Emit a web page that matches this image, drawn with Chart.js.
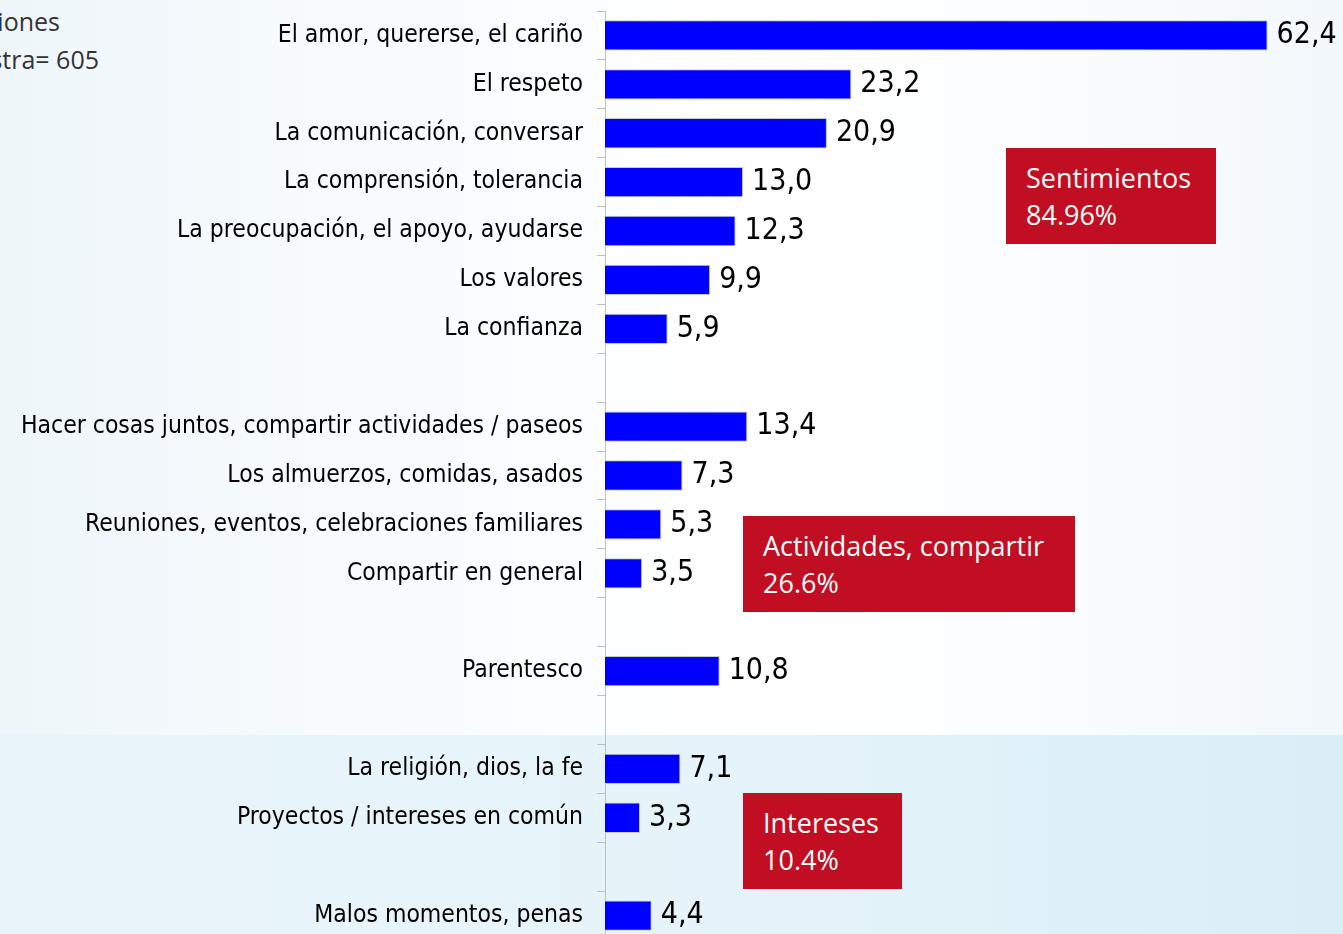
<!DOCTYPE html>
<html>
<head>
<meta charset="utf-8">
<script src="https://cdn.jsdelivr.net/npm/chart.js@4/dist/chart.umd.min.js"></script>
<style>
  html, body { margin: 0; padding: 0; overflow: hidden; width: 1343px; height: 934px; }
  body {
    position: relative;
    background: linear-gradient(to right, #eef6fb 0%, #f7fbfd 25%, #ffffff 55%, #fcfdfe 75%, #f2f8fc 100%);
  }
  #band {
    position: absolute; left: 0; top: 735px; width: 1343px; height: 199px;
    background: linear-gradient(to right, #e9f4fa 0%, #e6f4fa 50%, #dff1f8 80%, #d9eef6 100%);
  }
  #wrap { position: absolute; left: 0; top: 0; width: 1343px; height: 945px; }
  .note { position: absolute; font-family: "Open Sans", "Noto Sans", sans-serif;
          font-size: 25px; color: #333; white-space: nowrap; text-align: right; }
  .box { position: absolute; background: #c20e22; color: #fff; font-family: "Open Sans", "Noto Sans", sans-serif;
         font-size: 27px; line-height: 37px; padding: 11px 0 0 20px; box-sizing: border-box; white-space: nowrap; }
</style>
</head>
<body>
<div id="band"></div>
<div class="note" style="right: 1283px; top: 4px;">Menciones</div>
<div class="note" style="right: 1244px; top: 42px;">Muestra= 605</div>
<div id="wrap"><canvas id="myChart" width="1343" height="945"></canvas></div>
<div class="box" style="left: 1006px; top: 148px; width: 210px; height: 96px;">Sentimientos<br>84.96%</div>
<div class="box" style="left: 743px; top: 516px; width: 332px; height: 96px;">Actividades, compartir<br>26.6%</div>
<div class="box" style="left: 743px; top: 793px; width: 159px; height: 96px;">Intereses<br>10.4%</div>
<script>
var categories = [
    'El amor, quererse, el cariño',
    'El respeto',
    'La comunicación, conversar',
    'La comprensión, tolerancia',
    'La preocupación, el apoyo, ayudarse',
    'Los valores',
    'La confianza',
    '',
    'Hacer cosas juntos, compartir actividades / paseos',
    'Los almuerzos, comidas, asados',
    'Reuniones, eventos, celebraciones familiares',
    'Compartir en general',
    '',
    'Parentesco',
    '',
    'La religión, dios, la fe',
    'Proyectos / intereses en común',
    '',
    'Malos momentos, penas'
];
var values = [62.4, 23.2, 20.9, 13.0, 12.3, 9.9, 5.9, null, 13.4, 7.3, 5.3, 3.5, null, 10.8, null, 7.1, 3.3, null, 4.4];

var labelFont = '"DejaVu Sans Condensed", "DejaVu Sans", sans-serif';

// value labels at the end of each bar, decimal comma
var valueLabels = {
    id: 'valueLabels',
    afterDatasetsDraw: function (chart) {
        var ctx = chart.ctx;
        var meta = chart.getDatasetMeta(0);
        ctx.save();
        ctx.font = '30px ' + labelFont;
        ctx.fillStyle = '#000';
        ctx.textBaseline = 'middle';
        ctx.textAlign = 'left';
        meta.data.forEach(function (bar, i) {
            var v = values[i];
            if (v === null) return;
            ctx.fillText(v.toFixed(1).replace('.', ','), bar.x + 9, bar.y);
        });
        ctx.restore();
    }
};

var ctx = document.getElementById('myChart').getContext('2d');
var myChart = new Chart(ctx, {
    type: 'bar',
    data: {
        labels: categories,
        datasets: [{
            data: values,
            backgroundColor: '#0000ff',
            borderColor: '#c8c8c8',
            borderWidth: 1,
            categoryPercentage: 1,
            barPercentage: 0.62
        }]
    },
    options: {
        indexAxis: 'y',
        responsive: false,
        animation: false,
        layout: { padding: { top: 11, bottom: 5, left: 0, right: 0 } },
        scales: {
            x: {
                display: false,
                min: 0,
                max: 69.5
            },
            y: {
                afterFit: function (scale) {
                    scale.width = 605;
                    scale.paddingTop = 0;
                    scale.paddingBottom = 0;
                },
                grid: {
                    display: true,
                    drawOnChartArea: false,
                    drawTicks: true,
                    tickLength: 8,
                    color: '#c0c0c0',
                    offset: true
                },
                border: { display: true, color: '#c0c0c0', width: 1 },
                ticks: {
                    color: '#000',
                    padding: 14,
                    autoSkip: false,
                    font: { family: labelFont, size: 24.5 }
                }
            }
        },
        plugins: {
            legend: { display: false },
            tooltip: { enabled: false }
        }
    },
    plugins: [valueLabels]
});
</script>
</body>
</html>
